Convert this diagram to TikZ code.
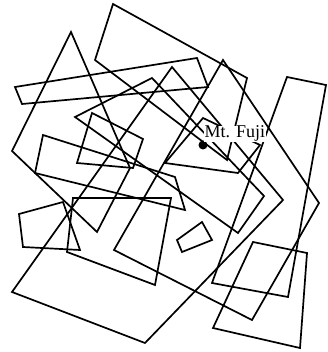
\documentclass[tikz,border=0pt]{standalone}
\usepackage{fontspec}
\setmainfont{Liberation Serif}
\usetikzlibrary{positioning}

\begin{document}
\begin{tikzpicture}[x=1pt, y=-1pt,
    region/.style={draw, line width=1.7pt, line join=miter},
    site/.style={circle, fill=black, inner sep=0pt, minimum size=9pt},
    lbl/.style={fill=white, inner sep=0.5pt, font=\fontsize{18}{18}\selectfont}
]
\useasboundingbox (0,0) rectangle (327,352);

% regions
\draw[region] (113,4) -- (247,78) -- (227,160) -- (95,60) -- cycle;
\draw[region] (71,32) -- (12,151) -- (97,232) -- (130,168) -- cycle;
\draw[region] (15,87) -- (197,58) -- (208,87) -- (22,104) -- cycle;
\draw[region] (152,78) -- (75,117) -- (238,233) -- (264,196) -- cycle;
\draw[region] (92,113) -- (143,139) -- (133,168) -- (77,163) -- cycle;
\draw[region] (43,135) -- (175,177) -- (185,210) -- (35,173) -- cycle;
\draw[region] (19,214) -- (63,202) -- (80,250) -- (23,247) -- cycle;
\draw[region] (73,198) -- (171,198) -- (155,285) -- (67,252) -- cycle;
\draw[region] (223,60) -- (319,203) -- (252,320) -- (114,250) -- cycle;
\draw[region] (172,67) -- (283,200) -- (145,343) -- (12,292) -- cycle;
\draw[region] (287,77) -- (326,85) -- (288,297) -- (212,283) -- cycle;
\draw[region] (253,242) -- (307,253) -- (300,348) -- (213,328) -- cycle;
\draw[region] (177,240) -- (202,222) -- (212,240) -- (182,252) -- cycle;
\draw[region] (203,118) -- (260,145) -- (238,173) -- (165,163) -- cycle;

% query point
\node[site] (fuji) at (203,145) {};
\node[lbl, anchor=base west] (name) at (204,138) {Mt. Fuji};
\end{tikzpicture}
\end{document}
